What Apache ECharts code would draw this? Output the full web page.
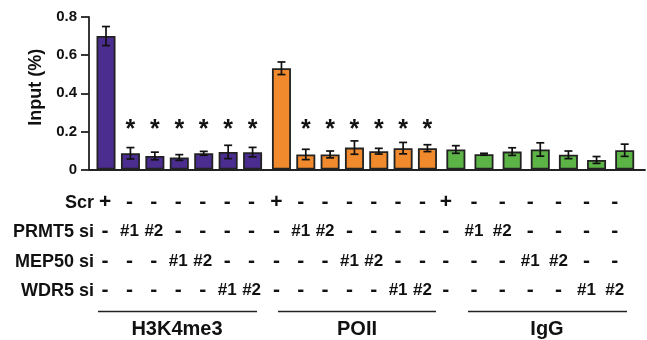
<!DOCTYPE html>
<html>
<head>
<meta charset="utf-8">
<script src="https://cdn.jsdelivr.net/npm/echarts@6/dist/echarts.min.js"></script>
<style>
  html, body { margin: 0; padding: 0; background: #fff; }
  #chart { width: 647px; height: 340px; }
</style>
</head>
<body>
<div id="chart"></div>
<script>
// ChIP signal (% of input) for three antibodies under seven knockdown conditions
const groupNames = ['H3K4me3', 'POII', 'IgG'];

const h3k4me3Mean = [0.700, 0.085, 0.071, 0.063, 0.085, 0.092, 0.091];
const h3k4me3Err  = [0.050, 0.030, 0.020, 0.015, 0.010, 0.035, 0.025];
const poiiMean    = [0.531, 0.079, 0.079, 0.115, 0.096, 0.112, 0.112];
const poiiErr     = [0.033, 0.027, 0.018, 0.035, 0.015, 0.030, 0.018];
const iggMean     = [0.105, 0.080, 0.094, 0.105, 0.077, 0.050, 0.101];
const iggErr      = [0.020, 0.005, 0.020, 0.035, 0.020, 0.018, 0.032];

// significance marks (1 = asterisk above the bar)
const h3k4me3Sig = [0, 1, 1, 1, 1, 1, 1];
const poiiSig    = [0, 1, 1, 1, 1, 1, 1];
const iggSig     = [0, 0, 0, 0, 0, 0, 0];

// treatment table under each group
const rowLabels = ['Scr', 'PRMT5 si', 'MEP50 si', 'WDR5 si'];
const scrRow   = ['+', '-', '-', '-', '-', '-', '-'];
const prmt5Row = ['-', '#1', '#2', '-', '-', '-', '-'];
const mep50Row = ['-', '-', '-', '#1', '#2', '-', '-'];
const wdr5Row  = ['-', '-', '-', '-', '-', '#1', '#2'];

const yTicks = [0, 0.2, 0.4, 0.6, 0.8];

// ---- layout ----
const FONT = 'Liberation Sans, Arial, Helvetica, sans-serif';
const colors = ['#4b2c8f', '#f08a2c', '#5db446'];
const plotTop = 17, plotHeight = 152.5;
const groupGrids = [
  { left: 93.8, width: 171 },
  { left: 269.3, width: 170.3 },
  { left: 441.8, width: 199 }
];
const tableShift = [1, 5, 10];            // table columns sit slightly left of the bars
const groupLines = [[98, 257], [278, 436], [468, 627]];
const groupLabelX = [177, 357, 547];
const rowStep = 29.4, firstRowY = 203;

const means = [h3k4me3Mean, poiiMean, iggMean];
const errs = [h3k4me3Err, poiiErr, iggErr];
const sigs = [h3k4me3Sig, poiiSig, iggSig];
const cats = scrRow.map((_, i) => String(i));

function cell(t) {
  if (t === '-') return '{d|-}';
  if (t === '+') return '{p|+}';
  return '{h|' + t + '}';
}

const richBase = { fontFamily: FONT, fontWeight: 'bold', color: '#111', lineHeight: rowStep };
const tableRich = {
  d: Object.assign({ fontSize: 21 }, richBase),
  p: Object.assign({ fontSize: 21 }, richBase),
  h: Object.assign({ fontSize: 17 }, richBase)
};

const grids = [{ left: 89, right: 2, top: plotTop, height: plotHeight }];
groupGrids.forEach(g => grids.push({ left: g.left, width: g.width, top: plotTop, height: plotHeight }));

const xAxes = [{
  gridIndex: 0, type: 'value', min: 0, max: 1,
  axisLine: { show: true, lineStyle: { color: '#222', width: 1.8 } },
  axisTick: { show: false }, axisLabel: { show: false }, splitLine: { show: false }
}];
const yAxes = [{
  gridIndex: 0, type: 'value', min: yTicks[0], max: yTicks[yTicks.length - 1], interval: 0.2,
  name: 'Input (%)', nameLocation: 'middle', nameGap: 42,
  nameTextStyle: { fontFamily: FONT, fontWeight: 'bold', fontSize: 18, color: '#111', padding: [0, 0, 0, 12] },
  axisLine: { show: true, lineStyle: { color: '#222', width: 1.8 } },
  axisTick: { show: true, length: 8, lineStyle: { color: '#222', width: 1.8 } },
  axisLabel: {
    margin: 12, fontFamily: FONT, fontWeight: 'bold', fontSize: 15, color: '#111',
    formatter: v => (v === 0 ? '0' : v.toFixed(1))
  },
  splitLine: { show: false }
}];

const series = [];
groupNames.forEach((name, g) => {
  const gi = g + 1;
  xAxes.push({
    gridIndex: gi, type: 'category', data: cats,
    axisLine: { show: false }, axisTick: { show: false }, splitLine: { show: false },
    axisLabel: {
      interval: 0, margin: 18, lineHeight: rowStep,
      padding: [0, 2 * tableShift[g], 0, 0],
      rich: tableRich,
      formatter: (v, i) => [scrRow[i], prmt5Row[i], mep50Row[i], wdr5Row[i]].map(cell).join('\n')
    }
  });
  yAxes.push({ gridIndex: gi, type: 'value', min: 0, max: 0.8, show: false });

  series.push({
    type: 'bar', name: name, xAxisIndex: gi, yAxisIndex: gi,
    data: means[g], barWidth: 19, z: 2,
    itemStyle: { color: colors[g], borderColor: '#222', borderWidth: 1.8 },
    silent: true
  });

  series.push({
    type: 'custom', xAxisIndex: gi, yAxisIndex: gi, clip: false, silent: true, z: 5,
    data: means[g].map((m, i) => [i, m, errs[g][i], sigs[g][i]]),
    renderItem: (params, api) => {
      const i = api.value(0), m = api.value(1), e = api.value(2), s = api.value(3);
      const hi = api.coord([i, m + e]);
      const lo = api.coord([i, m - e]);
      const cap = 4;
      const style = { stroke: '#111', lineWidth: 1.7 };
      const children = [
        { type: 'line', shape: { x1: hi[0], y1: hi[1], x2: lo[0], y2: lo[1] }, style },
        { type: 'line', shape: { x1: hi[0] - cap, y1: hi[1], x2: hi[0] + cap, y2: hi[1] }, style },
        { type: 'line', shape: { x1: lo[0] - cap, y1: lo[1], x2: lo[0] + cap, y2: lo[1] }, style }
      ];
      if (s) {
        const p = api.coord([i, 0.235]);
        children.push({
          type: 'text',
          style: {
            text: '*', x: p[0], y: p[1] + 5, align: 'center', verticalAlign: 'middle',
            fontFamily: FONT, fontWeight: 'bold', fontSize: 25, fill: '#111'
          }
        });
      }
      return { type: 'group', children };
    }
  });
});

const graphic = [];
rowLabels.forEach((t, k) => {
  graphic.push({
    type: 'text', x: 94, y: firstRowY + k * rowStep,
    style: {
      text: t, fontFamily: FONT, fontWeight: 'bold', fontSize: 18, fill: '#111',
      align: 'right', verticalAlign: 'middle'
    }
  });
});
groupNames.forEach((t, g) => {
  graphic.push({
    type: 'line',
    shape: { x1: groupLines[g][0], y1: 311.5, x2: groupLines[g][1], y2: 311.5 },
    style: { stroke: '#222', lineWidth: 1.5 }
  });
  graphic.push({
    type: 'text', x: groupLabelX[g], y: 329,
    style: {
      text: t, fontFamily: FONT, fontWeight: 'bold', fontSize: 20, fill: '#111',
      align: 'center', verticalAlign: 'middle'
    }
  });
});

const chart = echarts.init(document.getElementById('chart'), null, { renderer: 'canvas' });
chart.setOption({
  animation: false,
  backgroundColor: '#fff',
  grid: grids,
  xAxis: xAxes,
  yAxis: yAxes,
  series: series,
  graphic: graphic
});
</script>
</body>
</html>
